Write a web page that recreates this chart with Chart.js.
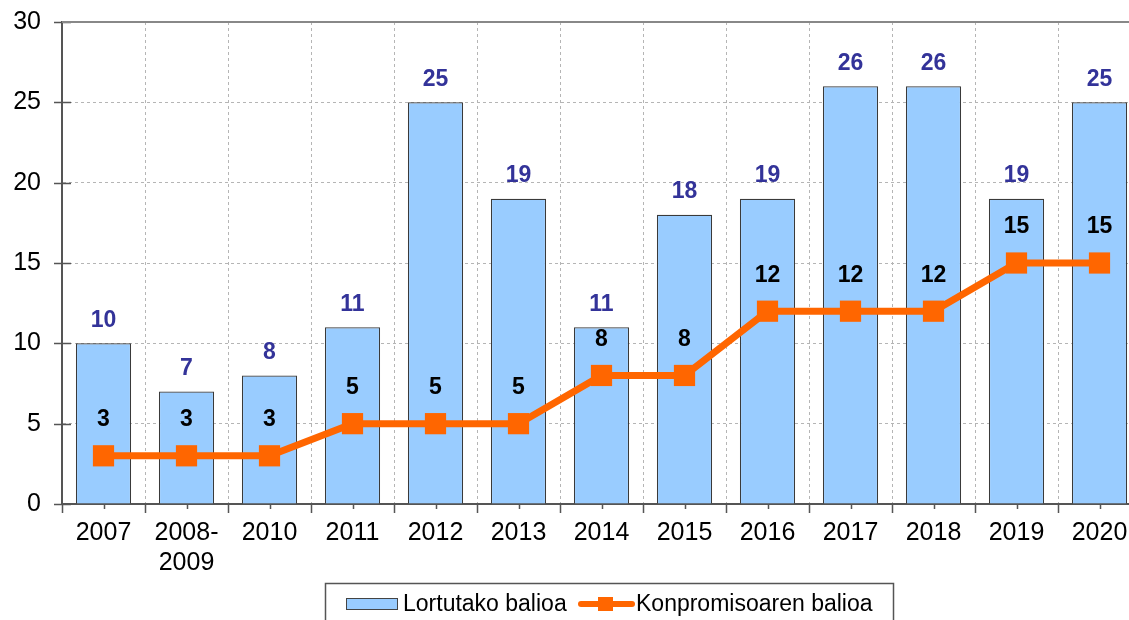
<!DOCTYPE html>
<html>
<head>
<meta charset="utf-8">
<title>Lortutako balioa eta konpromisoaren balioa</title>
<script src="https://cdn.jsdelivr.net/npm/chart.js@4/dist/chart.umd.min.js"></script>
<style>
  html, body { margin: 0; padding: 0; background: #fff; overflow: hidden; }
  #wrap { width: 1153px; height: 620px; }
</style>
</head>
<body>
<div id="wrap"><canvas id="balioak" width="1153" height="620"></canvas></div>
<script>
const urteak = ['2007', ['2008-', '2009'], '2010', '2011', '2012', '2013', '2014', '2015', '2016', '2017', '2018', '2019', '2020'];
const lortutakoa = [10, 7, 8, 11, 25, 19, 11, 18, 19, 26, 26, 19, 25];
const konpromisoa = [3, 3, 3, 5, 5, 5, 8, 8, 12, 12, 12, 15, 15];
const yTikak = [0, 5, 10, 15, 20, 25, 30];

const FONT = '"Liberation Sans", Arial, sans-serif';
const URDINA = '#99CCFF';
const LARANJA = '#FF6600';

// balioak barren gainean eta puntuen gainean
const etiketak = {
  id: 'etiketak',
  afterDatasetsDraw(chart) {
    const { ctx } = chart;
    ctx.save();
    ctx.font = 'bold 23px ' + FONT;
    ctx.textAlign = 'center';
    ctx.textBaseline = 'middle';
    chart.getDatasetMeta(1).data.forEach((bar, i) => {
      ctx.fillStyle = '#333399';
      ctx.fillText(lortutakoa[i], bar.x, bar.y - 23);
    });
    chart.getDatasetMeta(0).data.forEach((pt, i) => {
      ctx.fillStyle = '#000';
      ctx.fillText(konpromisoa[i], pt.x, pt.y - 36);
    });
    ctx.restore();
  }
};

// ardatzetako marka txikiak eta goiko ertza
const ardatzak = {
  id: 'ardatzak',
  afterDraw(chart) {
    const { ctx, chartArea: a, scales: { x, y } } = chart;
    ctx.save();
    ctx.strokeStyle = '#555';
    ctx.lineWidth = 1.5;
    ctx.beginPath();
    yTikak.forEach(v => {
      const py = Math.round(y.getPixelForValue(v)) + 0.5;
      ctx.moveTo(a.left - 8, py);
      ctx.lineTo(a.left + 9, py);
    });
    const half = (x.getPixelForValue(1) - x.getPixelForValue(0)) / 2;
    for (let i = 0; i < urteak.length; i++) {
      const c = x.getPixelForValue(i);
      ctx.moveTo(Math.round(c - half) + 0.5, a.bottom);
      ctx.lineTo(Math.round(c - half) + 0.5, a.bottom + 9);
      ctx.moveTo(Math.round(c) + 0.5, a.bottom);
      ctx.lineTo(Math.round(c) + 0.5, a.bottom + 5);
    }
    ctx.stroke();
    ctx.strokeStyle = '#888';
    ctx.lineWidth = 2;
    ctx.beginPath();
    ctx.moveTo(a.left, a.top);
    ctx.lineTo(a.right, a.top);
    ctx.stroke();
    ctx.restore();
  }
};

// legenda kutxa behean
const legenda = {
  id: 'legenda',
  afterDraw(chart) {
    const { ctx } = chart;
    ctx.save();
    ctx.strokeStyle = '#555';
    ctx.lineWidth = 1.5;
    ctx.strokeRect(325.5, 583.5, 568, 50);
    ctx.fillStyle = URDINA;
    ctx.fillRect(346, 598, 51, 11);
    ctx.strokeStyle = '#444';
    ctx.lineWidth = 1;
    ctx.strokeRect(346.5, 598.5, 51, 11);
    ctx.strokeStyle = LARANJA;
    ctx.lineWidth = 6;
    ctx.lineCap = 'round';
    ctx.beginPath();
    ctx.moveTo(581, 604);
    ctx.lineTo(632, 604);
    ctx.stroke();
    ctx.fillStyle = LARANJA;
    ctx.fillRect(598, 597, 15, 14);
    ctx.fillStyle = '#000';
    ctx.font = '23px ' + FONT;
    ctx.textBaseline = 'middle';
    ctx.fillText('Lortutako balioa', 403, 605);
    ctx.fillText('Konpromisoaren balioa', 636, 605);
    ctx.restore();
  }
};

new Chart(document.getElementById('balioak'), {
  data: {
    labels: urteak,
    datasets: [
      {
        type: 'line',
        label: 'Konpromisoaren balioa',
        data: konpromisoa,
        borderColor: LARANJA,
        backgroundColor: LARANJA,
        borderWidth: 7,
        pointStyle: 'rect',
        pointRadius: 15,
        pointBorderWidth: 0,
        tension: 0,
        order: 1
      },
      {
        type: 'bar',
        label: 'Lortutako balioa',
        data: lortutakoa,
        backgroundColor: URDINA,
        borderColor: '#3a3a3a',
        borderWidth: 1.2,
        categoryPercentage: 1,
        barPercentage: 0.665,
        order: 2
      }
    ]
  },
  options: {
    responsive: false,
    animation: false,
    layout: { autoPadding: false, padding: { top: 22, right: 12, bottom: 0, left: 0 } },
    plugins: {
      legend: { display: false },
      tooltip: { enabled: false }
    },
    scales: {
      x: {
        offset: true,
        grid: { offset: true, color: '#b5b5b5', lineWidth: 1, drawTicks: false },
        border: { color: '#555', width: 2, dash: [3, 3] },
        ticks: {
          color: '#000',
          font: { family: FONT, size: 25, lineHeight: 1.2 },
          padding: 14,
          maxRotation: 0,
          autoSkip: false
        },
        afterFit(s) { s.height = 116; }
      },
      y: {
        min: 0,
        max: 30,
        grid: { color: '#b5b5b5', lineWidth: 1, drawTicks: false },
        border: { color: '#555', width: 2, dash: [3, 3] },
        ticks: {
          stepSize: 5,
          color: '#000',
          font: { family: FONT, size: 25 },
          padding: 21
        },
        afterFit(s) {
          s.width = 62;
          s.paddingTop = 0;
          s.paddingBottom = 0;
        }
      }
    }
  },
  plugins: [etiketak, ardatzak, legenda]
});
</script>
</body>
</html>
